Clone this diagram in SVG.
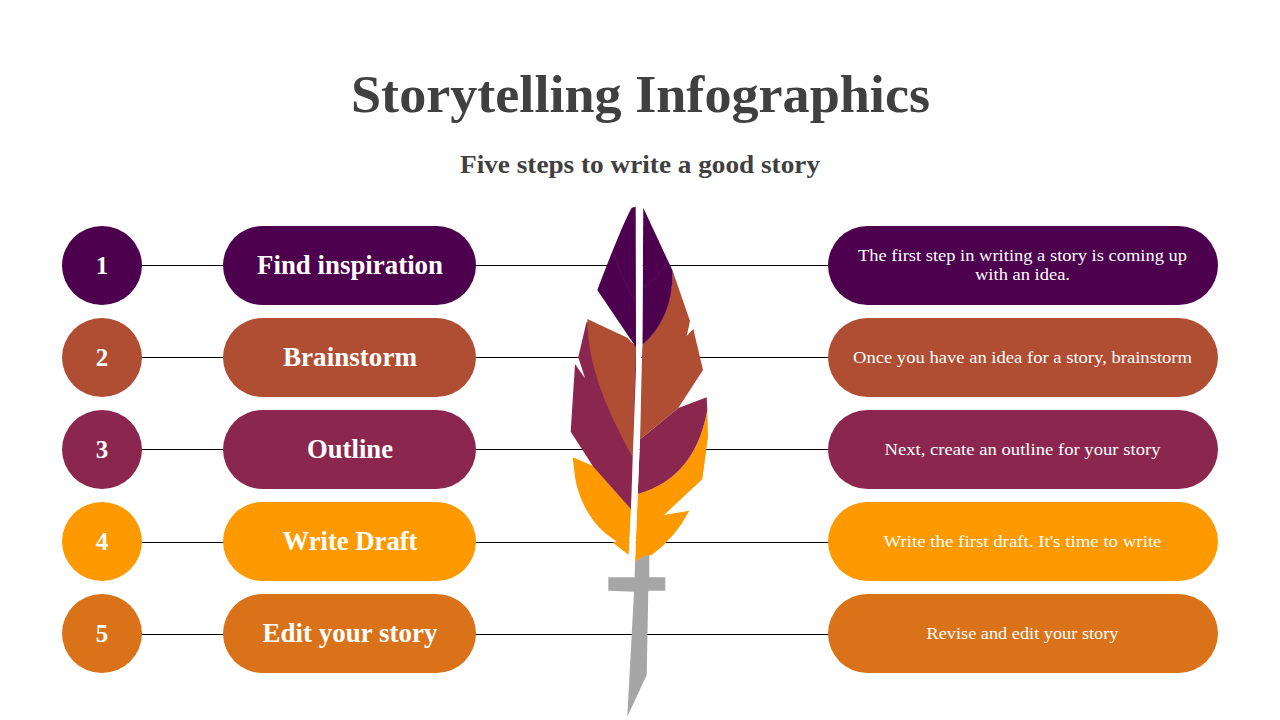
<svg xmlns="http://www.w3.org/2000/svg" width="1280" height="720" viewBox="0 0 1280 720">
<style>
text{font-family:"Liberation Serif","DejaVu Serif",serif;text-anchor:middle}
.h{fill:#404040;font-weight:700}
.n{fill:#fff;font-weight:700;font-size:27px}
.m{fill:#fff;font-weight:700;font-size:25px}
.d{fill:#fff;font-size:17.5px}
.c1{fill:#4d004d}.c2{fill:#b04e33}.c3{fill:#8b264f}.c4{fill:#ff9900}.c5{fill:#d97218}
.ln{stroke:#000;stroke-width:1.2;fill:none}
</style>
<rect width="1280" height="720" fill="#fff"/>
<text id="title" class="h" x="640.500" y="112" font-size="52" textLength="579" lengthAdjust="spacingAndGlyphs">Storytelling Infographics</text>
<text id="subtitle" class="h" x="640" y="173" font-size="26" textLength="360" lengthAdjust="spacingAndGlyphs">Five steps to write a good story</text>
<g id="connectors">
<path class="ln" d="M141 265.500H224M475 265.500H829M141 357.500H224M475 357.500H829M141 449.500H224M475 449.500H829M141 542.500H224M475 542.500H829M141 634.500H224M475 634.500H829"/>
</g>
<g id="feather">
<path class="c4" d="M572.700 457.300L593.300 466L631 509.300L628.700 555L612.700 542.500L616.700 541.700L605 533Q598 527 593 520Q587 512 583 503Q577 490 575 477Z"/>
<path class="c4" d="M707.300 410L708 437L702.300 479.300L664 515L689.300 510.700Q675 538 651.700 555Q642 556 635 561.700L637.700 494Q695 478 707.300 410Z"/>
<path class="c3" d="M586.500 322L578.300 357.300L585 378.300L575 364L570.700 431.700L593.300 466.700L631 509.300L636 457.300V345L600 330Z"/>
<path class="c3" d="M706.700 397.300L707.300 410Q695 478 637.700 494L640 439.300L678.300 408Z"/>
<path class="c2" d="M587.300 319L627.300 337.700L636 347L632.700 457.300C612 420 587.300 370 587.300 319Z"/>
<path class="c2" d="M672.700 271L690 321L686.700 336L693.300 329L703 370L678.300 408L640 439.300L642.300 345Q672 318 672.700 271Z"/>
<path class="c1" d="M635.700 206.700L631.700 207.700Q622 225 597.300 290L636 347.300Z"/>
<path class="c1" d="M643.300 207.700L672.700 271Q673 318 642.300 345Z"/>
<path d="M613.300 251.700Q620 275 636 303M643.300 286.700Q658 280 667.300 260" fill="none" stroke="#5e0b66" stroke-width="1"/>
<path d="M636 206H643L642.300 345L640.700 370L640 439.300L637.700 494L635 561.700L628.700 556L631 509.300L632.700 457.300L636 370Z" fill="#fff"/>
<path d="M635 561.700Q642 556 649.300 555V577.300H665.300V590.700H648.300L646.700 675L627.300 716.700L634 591.700L608.300 590.700V577.300H634.700Z" fill="#a6a6a6"/>
</g>
<g id="step-1"><ellipse class="c1" cx="102" cy="265.500" rx="40" ry="39.500"/><text class="m" x="102" y="273.500">1</text></g>
<g id="label-1"><rect class="c1" x="223" y="226" width="253" height="79" rx="39.500"/><text class="n" x="350" y="274" textLength="186" lengthAdjust="spacingAndGlyphs">Find inspiration</text></g>
<g id="desc-1"><rect class="c1" x="828" y="226" width="390" height="79" rx="39.500"/><text class="d" x="1022.500" y="261" textLength="329" lengthAdjust="spacingAndGlyphs">The first step in writing a story is coming up</text><text class="d" x="1022.500" y="280" textLength="95" lengthAdjust="spacingAndGlyphs">with an idea.</text></g>
<g id="step-2"><ellipse class="c2" cx="102" cy="357.500" rx="40" ry="39.500"/><text class="m" x="102" y="365.500">2</text></g>
<g id="label-2"><rect class="c2" x="223" y="318" width="253" height="79" rx="39.500"/><text class="n" x="350" y="366" textLength="134" lengthAdjust="spacingAndGlyphs">Brainstorm</text></g>
<g id="desc-2"><rect class="c2" x="828" y="318" width="390" height="79" rx="39.500"/><text class="d" x="1022.500" y="363" textLength="339" lengthAdjust="spacingAndGlyphs">Once you have an idea for a story, brainstorm</text></g>
<g id="step-3"><ellipse class="c3" cx="102" cy="449.500" rx="40" ry="39.500"/><text class="m" x="102" y="457.500">3</text></g>
<g id="label-3"><rect class="c3" x="223" y="410" width="253" height="79" rx="39.500"/><text class="n" x="350" y="458" textLength="86" lengthAdjust="spacingAndGlyphs">Outline</text></g>
<g id="desc-3"><rect class="c3" x="828" y="410" width="390" height="79" rx="39.500"/><text class="d" x="1022.500" y="455" textLength="276" lengthAdjust="spacingAndGlyphs">Next, create an outline for your story</text></g>
<g id="step-4"><ellipse class="c4" cx="102" cy="541.500" rx="40" ry="39.500"/><text class="m" x="102" y="549.500">4</text></g>
<g id="label-4"><rect class="c4" x="223" y="502" width="253" height="79" rx="39.500"/><text class="n" x="350" y="550" textLength="135" lengthAdjust="spacingAndGlyphs">Write Draft</text></g>
<g id="desc-4"><rect class="c4" x="828" y="502" width="390" height="79" rx="39.500"/><text class="d" x="1022.500" y="547" textLength="278" lengthAdjust="spacingAndGlyphs">Write the first draft. It's time to write</text></g>
<g id="step-5"><ellipse class="c5" cx="102" cy="633.500" rx="40" ry="39.500"/><text class="m" x="102" y="641.500">5</text></g>
<g id="label-5"><rect class="c5" x="223" y="594" width="253" height="79" rx="39.500"/><text class="n" x="350" y="642" textLength="175" lengthAdjust="spacingAndGlyphs">Edit your story</text></g>
<g id="desc-5"><rect class="c5" x="828" y="594" width="390" height="79" rx="39.500"/><text class="d" x="1022.500" y="639" textLength="192" lengthAdjust="spacingAndGlyphs">Revise and edit your story</text></g>
</svg>
